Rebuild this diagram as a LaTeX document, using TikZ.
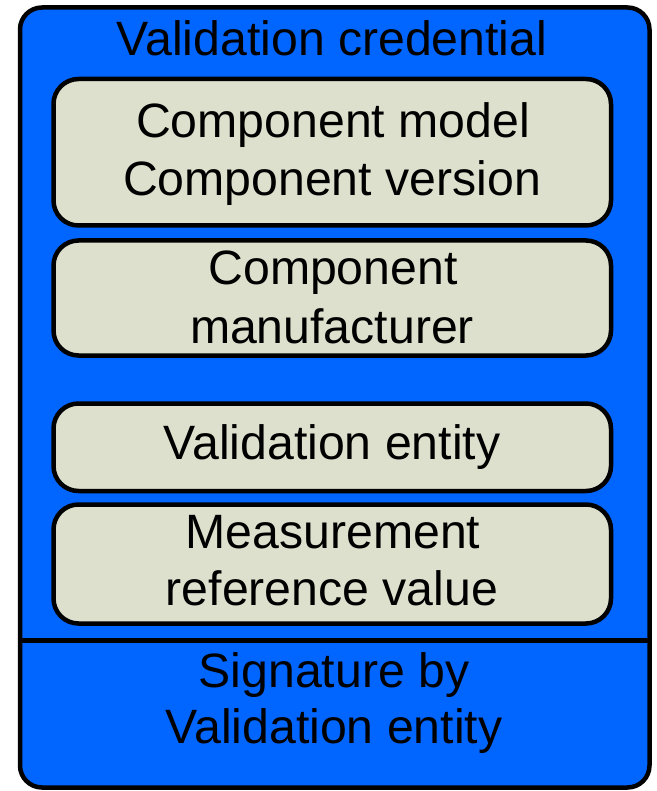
\documentclass[tikz,border=0pt]{standalone}
\usepackage{fontspec}
\setmainfont{Liberation Sans}
\definecolor{vblue}{HTML}{0066FF}
\definecolor{vgray}{HTML}{DDE0CC}
\begin{document}
\begin{tikzpicture}[x=1pt,y=-1pt,
  outerbox/.style={draw=black, fill=vblue, line width=4.5pt, rounded corners=22pt},
  innerbox/.style={draw=black, fill=vgray, line width=4.5pt, rounded corners=25pt, minimum width=557.5pt, inner sep=0pt, outer sep=0pt},
  txt/.style={anchor=base, inner sep=0pt, font=\fontsize{48.2}{56}\selectfont}]
\useasboundingbox (0,0) rectangle (656,791);
\draw[outerbox] (20,7.5) rectangle (649.5,787.5);
\coordinate (dl) at (20,640.5);
\coordinate (dr) at (649.5,640.5);
\draw[line width=4.5pt] (dl) -- (dr);
\node[innerbox, minimum height=146.5pt] (b1) at (332.25,152.25) {};
\node[innerbox, minimum height=115pt] (b2) at (332.25,298) {};
\node[innerbox, minimum height=87.5pt] (b3) at (332.25,447.25) {};
\node[innerbox, minimum height=119pt] (b4) at (332.25,564) {};
\node[txt] (t0) at (332,56) {Validation credential};
\node[txt] (t1a) at (333,138) {Component model};
\node[txt] (t1b) at (332,196) {Component version};
\node[txt] (t2a) at (333,284) {Component};
\node[txt] (t2b) at (332,343) {manufacturer};
\node[txt] (t3) at (332,459) {Validation entity};
\node[txt] (t4a) at (333,548) {Measurement};
\node[txt] (t4b) at (332,605) {reference value};
\node[txt] (t5a) at (334,687) {Signature by};
\node[txt] (t5b) at (334,743) {Validation entity};
\end{tikzpicture}
\end{document}
